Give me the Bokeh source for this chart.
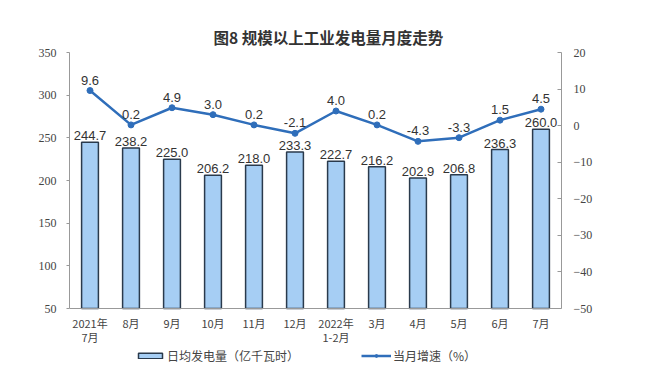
from bokeh.plotting import figure
from bokeh.models import Range1d, LinearAxis, FixedTicker, ColumnDataSource, Legend, LegendItem, Span
from bokeh.embed import file_html
from bokeh.resources import INLINE
from bokeh.core.properties import value

categories = ["2021年\n7月", "8月", "9月", "10月", "11月", "12月", "2022年\n1-2月", "3月", "4月", "5月", "6月", "7月"]
daily_output = [244.7, 238.2, 225.0, 206.2, 218.0, 233.3, 222.7, 216.2, 202.9, 206.8, 236.3, 260.0]
growth = [9.6, 0.2, 4.9, 3.0, 0.2, -2.1, 4.0, 0.2, -4.3, -3.3, 1.5, 4.5]
left_ticks = [50, 100, 150, 200, 250, 300, 350]
right_ticks = [-50, -40, -30, -20, -10, 0, 10, 20]
left_lim = (50, 350)
right_lim = (-50, 20)

# layout: plotting area 256px tall, frame extended below it to hold labels and legend
AREA_H = 256
FRAME_H = 318
left_start = left_lim[1] - (left_lim[1] - left_lim[0]) * FRAME_H / AREA_H
right_start = right_lim[1] - (right_lim[1] - right_lim[0]) * FRAME_H / AREA_H

src = ColumnDataSource(dict(
    cat=categories,
    val=daily_output,
    val_lbl=["%.1f" % v for v in daily_output],
    g=growth,
    g_lbl=["%.1f" % v for v in growth],
))

p = figure(frame_width=492, frame_height=FRAME_H, x_range=categories,
           y_range=Range1d(left_start, left_lim[1]), x_axis_location=None,
           output_backend="svg", toolbar_location=None,
           min_border_left=69, min_border_right=107, min_border_top=52, min_border_bottom=0)
p.extra_y_ranges = {"g": Range1d(right_start, right_lim[1])}

p.title.text = "图8  规模以上工业发电量月度走势"
p.title.align = "left"
p.title.offset = 144
p.title.text_font = "Noto Sans CJK SC"
p.title.text_font_size = "15.5px"
p.title.text_font_style = "bold"
p.title.text_color = "#333333"

p.xgrid.visible = False
p.ygrid.visible = False
p.outline_line_color = None

# x axis line and category labels
p.add_layout(Span(location=left_lim[0], dimension="width", line_color="#999999", line_width=1))
p.text(x="cat", y=left_lim[0], text="cat", source=src, text_align="center",
       text_baseline="top", y_offset=6, text_font=value("Noto Sans CJK SC"),
       text_font_size="11px", text_line_height=0.9, text_color="#444444")

bars = p.vbar(x="cat", top="val", bottom=left_lim[0], width=0.41, source=src,
              fill_color="#A6CEF4", line_color="#2A3A4C", line_width=1.5)
p.text(x="cat", y="val", text="val_lbl", source=src, text_align="center",
       text_baseline="bottom", y_offset=-2, text_font=value("Liberation Sans"),
       text_font_size="13px", text_color="#333333")

ln = p.line(x="cat", y="g", source=src, y_range_name="g", line_color="#2F6EBA", line_width=2.5)
pts = p.scatter(x="cat", y="g", source=src, y_range_name="g", size=6,
                fill_color="#2F6EBA", line_color="#2F6EBA")
p.text(x="cat", y="g", text="g_lbl", source=src, y_range_name="g", text_align="center",
       text_baseline="bottom", y_offset=-6, text_font=value("Liberation Sans"),
       text_font_size="13px", text_color="#333333")

ya = p.yaxis[0]
ya.ticker = FixedTicker(ticks=left_ticks)
ya.bounds = left_lim
ya.axis_line_color = "#999999"
ya.major_tick_line_color = "#999999"
ya.major_tick_out = 3
ya.major_tick_in = 0
ya.minor_tick_line_color = None
ya.major_label_standoff = 10
ya.major_label_text_font = "Liberation Serif"
ya.major_label_text_font_size = "12px"
ya.major_label_text_color = "#444444"

ra = LinearAxis(y_range_name="g", ticker=FixedTicker(ticks=right_ticks), bounds=right_lim)
ra.axis_line_color = "#999999"
ra.major_tick_line_color = "#999999"
ra.major_tick_out = 0
ra.major_tick_in = 4
ra.minor_tick_line_color = None
ra.major_label_text_font = "Liberation Serif"
ra.major_label_text_font_size = "12px"
ra.major_label_text_color = "#444444"
ra.major_label_standoff = 12
p.add_layout(ra, "right")

legend = Legend(items=[LegendItem(label="日均发电量（亿千瓦时）", renderers=[bars]),
                       LegendItem(label="当月增速（%）", renderers=[ln, pts])],
                orientation="horizontal", location=(66, 6), margin=0,
                label_text_font="Noto Sans CJK SC", label_text_font_size="12px",
                label_text_color="#444444", border_line_color=None,
                background_fill_alpha=0, spacing=62, glyph_width=30, glyph_height=7,
                label_height=14, label_standoff=2, padding=2)
p.add_layout(legend, "center")

open("out.html", "w").write(file_html(p, INLINE))
